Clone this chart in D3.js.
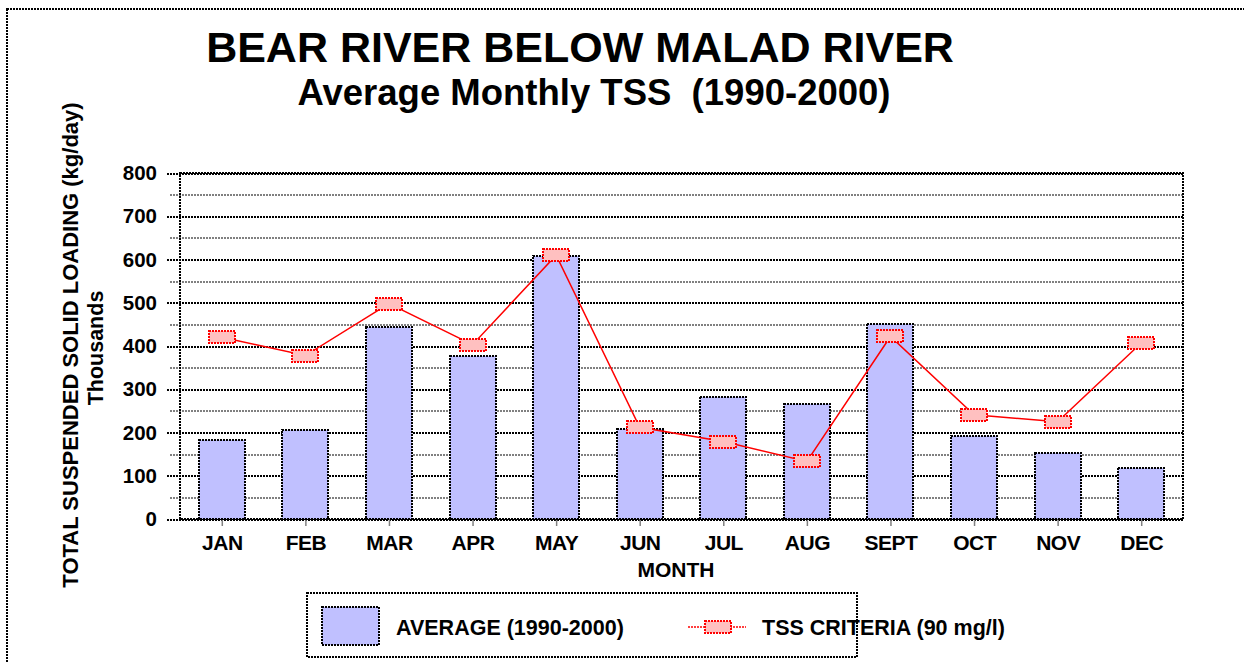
<!DOCTYPE html>
<html>
<head>
<meta charset="utf-8">
<script src="https://cdn.jsdelivr.net/npm/d3@7"></script>
<style>
  html, body { margin: 0; padding: 0; background: #fff; }
  svg { display: block; font-family: "Liberation Sans", Arial, sans-serif; font-weight: bold; }
</style>
</head>
<body>
<svg id="chart" width="1244" height="662"></svg>
<script>
// Monthly data (thousands of kg/day)
const months = ["JAN", "FEB", "MAR", "APR", "MAY", "JUN", "JUL", "AUG", "SEPT", "OCT", "NOV", "DEC"];
const averageLoad = [183, 206, 443, 378, 609, 207, 281, 267, 452, 193, 152, 118];
const criteriaLoad = [420, 378, 498, 403, 610, 212, 179, 133, 422, 241, 225, 407];
const majorTicks = [0, 100, 200, 300, 400, 500, 600, 700, 800];
const minorTicks = [50, 150, 250, 350, 450, 550, 650, 750];

const svg = d3.select("#chart");
const plot = { left: 180, right: 1183, top: 173, bottom: 519 };
const dotted = "2,1";

const x = d3.scaleBand().domain(months).range([plot.left, plot.right]).paddingInner(0.45).paddingOuter(0.225);
const xc = d3.scalePoint().domain(months).range([plot.left, plot.right]).padding(0.5);
const y = d3.scaleLinear().domain([0, 800]).range([plot.bottom, plot.top]);

// Outer dotted page border
svg.append("rect")
  .attr("x", 7).attr("y", 9).attr("width", 1240).attr("height", 660)
  .attr("fill", "none").attr("stroke", "#000").attr("stroke-width", 2)
  .attr("stroke-dasharray", dotted).attr("shape-rendering", "crispEdges");

// Titles
svg.append("text").attr("x", 580).attr("y", 62).attr("text-anchor", "middle")
  .attr("font-size", 43).text("BEAR RIVER BELOW MALAD RIVER");
svg.append("text").attr("x", 594).attr("y", 105).attr("text-anchor", "middle")
  .attr("font-size", 36.5).attr("xml:space", "preserve").text("Average Monthly TSS  (1990-2000)");

// Minor gridlines (gray)
const minorAxis = svg.append("g").attr("transform", `translate(${plot.right},0)`)
  .call(d3.axisLeft(y).tickValues(minorTicks).tickFormat("").tickSize(plot.right - 170));
minorAxis.select(".domain").remove();
minorAxis.selectAll("line").attr("stroke", "#808080").attr("stroke-width", 2)
  .attr("stroke-dasharray", dotted).attr("shape-rendering", "crispEdges");

// Major gridlines (black dotted) with value labels
const majorAxis = svg.append("g").attr("transform", `translate(${plot.right},0)`)
  .call(d3.axisLeft(y).tickValues(majorTicks).tickSize(plot.right - 167).tickPadding(10));
majorAxis.select(".domain").remove();
majorAxis.selectAll("line").attr("stroke", "#000").attr("stroke-width", 2)
  .attr("stroke-dasharray", dotted).attr("shape-rendering", "crispEdges");
majorAxis.selectAll("text").attr("font-size", 20.5).attr("font-family", "Liberation Sans, Arial, sans-serif")
  .attr("font-weight", "bold").attr("fill", "#000");

// Plot frame
svg.append("rect")
  .attr("x", plot.left).attr("y", plot.top)
  .attr("width", plot.right - plot.left).attr("height", plot.bottom - plot.top)
  .attr("fill", "none").attr("stroke", "#000").attr("stroke-width", 2)
  .attr("stroke-dasharray", dotted).attr("shape-rendering", "crispEdges");

// Month axis
const xAxis = svg.append("g").attr("transform", `translate(0,${plot.bottom})`)
  .call(d3.axisBottom(xc).tickSize(7).tickPadding(9));
xAxis.select(".domain").remove();
xAxis.selectAll("line").attr("stroke", "#808080").attr("stroke-width", 1.5);
xAxis.selectAll("text").attr("font-size", 21).attr("font-family", "Liberation Sans, Arial, sans-serif")
  .attr("font-weight", "bold").attr("fill", "#000").attr("letter-spacing", -0.5);

// Average bars
svg.append("g").selectAll("rect").data(months).join("rect")
  .attr("x", d => x(d)).attr("width", x.bandwidth())
  .attr("y", (d, i) => y(averageLoad[i]))
  .attr("height", (d, i) => y(0) - y(averageLoad[i]))
  .attr("fill", "#c0c0ff").attr("stroke", "#000").attr("stroke-width", 2)
  .attr("stroke-dasharray", dotted).attr("shape-rendering", "crispEdges");

// Criteria line and markers
const line = d3.line().x((d, i) => xc(months[i])).y(d => y(d));
svg.append("path").datum(criteriaLoad).attr("d", line)
  .attr("fill", "none").attr("stroke", "#ff0000").attr("stroke-width", 1.5);
svg.append("g").selectAll("rect").data(criteriaLoad).join("rect")
  .attr("x", (d, i) => xc(months[i]) - 13).attr("y", d => y(d) - 6)
  .attr("width", 26).attr("height", 12)
  .attr("fill", "#ffc0c0").attr("stroke", "#ff0000").attr("stroke-width", 2)
  .attr("stroke-dasharray", dotted).attr("shape-rendering", "crispEdges");

// Axis titles
svg.append("text").attr("x", 676).attr("y", 577).attr("text-anchor", "middle")
  .attr("font-size", 21).text("MONTH");
svg.append("text").attr("transform", "translate(78,345) rotate(-90)").attr("text-anchor", "middle")
  .attr("font-size", 22).text("TOTAL SUSPENDED SOLID LOADING (kg/day)");
svg.append("text").attr("transform", "translate(103,348) rotate(-90)").attr("text-anchor", "middle")
  .attr("font-size", 21.5).text("Thousands");

// Legend
const legend = svg.append("g");
legend.append("rect").attr("x", 307).attr("y", 593).attr("width", 550).attr("height", 64)
  .attr("fill", "#fff").attr("stroke", "#000").attr("stroke-width", 2)
  .attr("stroke-dasharray", dotted).attr("shape-rendering", "crispEdges");
legend.append("rect").attr("x", 322).attr("y", 607).attr("width", 57).attr("height", 38)
  .attr("fill", "#c0c0ff").attr("stroke", "#000").attr("stroke-width", 2)
  .attr("stroke-dasharray", dotted).attr("shape-rendering", "crispEdges");
legend.append("text").attr("x", 396).attr("y", 635).attr("font-size", 21.5).text("AVERAGE (1990-2000)");
legend.append("line").attr("x1", 688).attr("x2", 746).attr("y1", 627).attr("y2", 627)
  .attr("stroke", "#ff0000").attr("stroke-width", 1.5).attr("stroke-dasharray", "2,1");
legend.append("rect").attr("x", 705).attr("y", 621).attr("width", 26).attr("height", 12)
  .attr("fill", "#ffc0c0").attr("stroke", "#ff0000").attr("stroke-width", 2)
  .attr("stroke-dasharray", dotted).attr("shape-rendering", "crispEdges");
legend.append("text").attr("x", 762).attr("y", 635).attr("font-size", 21.5).text("TSS CRITERIA (90 mg/l)");
</script>
</body>
</html>
